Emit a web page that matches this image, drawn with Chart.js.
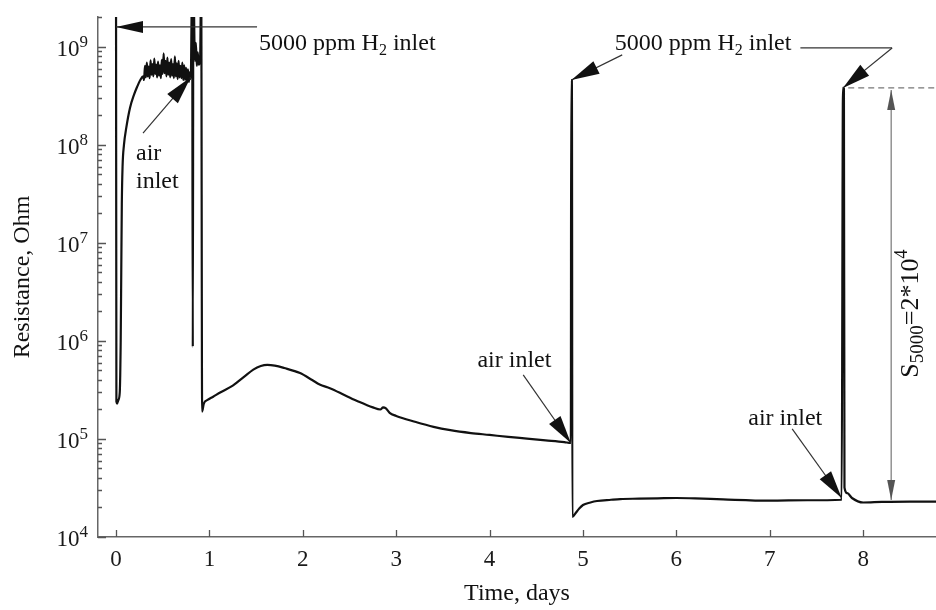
<!DOCTYPE html>
<html>
<head>
<meta charset="utf-8">
<script src="https://cdn.jsdelivr.net/npm/chart.js@4.4.1/dist/chart.umd.min.js"></script>
<style>
  html, body { margin: 0; padding: 0; background: #fff; }
</style>
</head>
<body>
<canvas id="resChart" width="936" height="610"></canvas>
<script>
// time, days
const days = [
  0, 0.004, 0.012, 0.025, 0.04, 0.05, 0.056, 0.062, 0.07, 0.085, 0.11, 0.15, 0.19, 0.225, 0.26, 0.29,
  0.30, 0.31, 0.32, 0.33, 0.34, 0.35, 0.36, 0.37, 0.38, 0.39, 0.40, 0.41, 0.42, 0.43, 0.44,
  0.45, 0.46, 0.47, 0.48, 0.49, 0.50, 0.51, 0.52, 0.53, 0.54, 0.55, 0.56, 0.57, 0.58, 0.59,
  0.60, 0.61, 0.62, 0.63, 0.64, 0.65, 0.66, 0.67, 0.68, 0.69, 0.70, 0.71, 0.72, 0.73, 0.74,
  0.75, 0.76, 0.77, 0.78, 0.79, 0.80,
  0.815, 0.822, 0.828, 0.845, 0.855, 0.865, 0.875, 0.885, 0.90, 0.912, 0.922, 0.94, 0.98,
  1.04, 1.12, 1.25, 1.37, 1.47, 1.55, 1.62, 1.70, 1.80, 1.97, 2.10, 2.18, 2.29, 2.45, 2.60,
  2.75, 2.83, 2.86, 2.89, 2.93, 3.00, 3.2, 3.4, 3.58, 3.8, 4.0, 4.2, 4.4, 4.6, 4.8, 4.87,
  4.874, 4.882, 4.886, 4.92, 4.96, 5.0, 5.08, 5.15, 5.3, 5.4, 5.6, 5.8, 6.0, 6.2, 6.5, 7.0,
  7.4, 7.77, 7.784, 7.794, 7.8, 7.83, 7.88, 8.0, 8.2, 8.5, 8.78
];
// resistance, Ohm
const ohms = [
  5e9, 2.4e5, 2.3e5, 2.5e5, 3.0e5, 1.0e6, 5e6, 2.5e7, 6e7, 1.0e8, 1.5e8, 2.4e8, 3.2e8, 3.9e8, 4.6e8, 5.0e8,
  4.6e8, 6.4e8, 4.9e8, 6.9e8, 5.0e8, 6.3e8, 4.8e8, 7.3e8, 5.2e8, 6.7e8, 5.0e8, 7.6e8, 5.3e8, 6.6e8, 4.9e8,
  7.1e8, 5.1e8, 6.5e8, 4.8e8, 7.4e8, 5.3e8, 8.6e8, 5.4e8, 7.2e8, 5.0e8, 7.8e8, 5.2e8, 6.9e8, 4.9e8, 7.5e8,
  5.1e8, 6.7e8, 4.8e8, 8.0e8, 5.0e8, 6.8e8, 4.7e8, 7.2e8, 4.9e8, 6.4e8, 4.8e8, 6.9e8, 4.6e8, 6.5e8, 4.6e8,
  6.1e8, 4.5e8, 5.9e8, 4.4e8, 5.5e8, 4.7e8,
  5e9, 8.7e5, 5e9, 7.2e8, 1.1e9, 6.4e8, 8.8e8, 6.6e8, 7.3e8, 5e9, 1.9e5, 2.3e5, 2.5e5,
  2.7e5, 3.0e5, 3.5e5, 4.3e5, 5.1e5, 5.55e5, 5.7e5, 5.6e5, 5.3e5, 4.7e5, 4.0e5, 3.6e5, 3.3e5, 2.8e5, 2.4e5,
  2.1e5, 2.0e5, 2.1e5, 2.05e5, 1.85e5, 1.72e5, 1.5e5, 1.33e5, 1.23e5, 1.15e5, 1.1e5, 1.05e5, 1.01e5, 9.7e4, 9.3e4, 9.1e4,
  4.6e8, 4.55e8, 1.6e4, 1.75e4, 1.95e4, 2.12e4, 2.25e4, 2.33e4, 2.4e4, 2.44e4, 2.46e4, 2.48e4, 2.5e4, 2.48e4, 2.42e4, 2.35e4,
  2.37e4, 2.4e4, 3.82e8, 3.75e8, 3.2e4, 2.8e4, 2.5e4, 2.25e4, 2.28e4, 2.3e4, 2.3e4
];

const xTickValues = [0, 1, 2, 3, 4, 5, 6, 7, 8];
const yDecades = [4, 5, 6, 7, 8, 9];

const FONT = '"Liberation Serif", "Times New Roman", serif';

function drawRich(ctx, parts, x, y) {
  let cx = x;
  for (const p of parts) {
    ctx.font = p.size + 'px ' + FONT;
    ctx.fillText(p.text, cx, y + (p.dy || 0));
    cx += ctx.measureText(p.text).width;
  }
  return cx - x;
}

function richWidth(ctx, parts) {
  let w = 0;
  for (const p of parts) {
    ctx.font = p.size + 'px ' + FONT;
    w += ctx.measureText(p.text).width;
  }
  return w;
}

function head(ctx, x0, y0, x1, y1, len, half) {
  const a = Math.atan2(y1 - y0, x1 - x0);
  const bx = x1 - len * Math.cos(a), by = y1 - len * Math.sin(a);
  ctx.beginPath();
  ctx.moveTo(x1, y1);
  ctx.lineTo(bx + half * Math.sin(a), by - half * Math.cos(a));
  ctx.lineTo(bx - half * Math.sin(a), by + half * Math.cos(a));
  ctx.closePath();
  ctx.fill();
}

function arrow(ctx, x0, y0, x1, y1, len, half) {
  ctx.beginPath();
  ctx.moveTo(x0, y0);
  ctx.lineTo(x1, y1);
  ctx.stroke();
  head(ctx, x0, y0, x1, y1, len, half);
}

const h2Label = [
  { text: '5000 ppm H', size: 24 },
  { text: '2', size: 16, dy: 5 },
  { text: ' inlet', size: 24 }
];

const annotate = {
  id: 'annotate',
  afterDraw(chart) {
    const { ctx, chartArea: area, scales } = chart;
    const px = d => scales.x.getPixelForValue(d);
    const py = v => scales.y.getPixelForValue(v);
    ctx.save();

    // inward tick marks
    ctx.strokeStyle = '#555';
    ctx.lineWidth = 1.3;
    ctx.beginPath();
    yDecades.forEach(k => {
      for (let m = 1; m <= 9; m++) {
        const v = m * Math.pow(10, k);
        if (v > scales.y.max) break;
        const y = Math.round(py(v)) + 0.5;
        ctx.moveTo(area.left, y);
        ctx.lineTo(area.left + (m === 1 ? 8 : 4), y);
      }
    });
    xTickValues.forEach(t => {
      const x = Math.round(px(t)) + 0.5;
      ctx.moveTo(x, area.bottom);
      ctx.lineTo(x, area.bottom - 7);
    });
    ctx.stroke();

    // tick labels
    ctx.fillStyle = '#1a1a1a';
    ctx.textBaseline = 'alphabetic';
    ctx.textAlign = 'left';
    yDecades.forEach(k => {
      const y = py(Math.pow(10, k));
      const parts = [{ text: '10', size: 23 }, { text: String(k), size: 17, dy: -9 }];
      const w = richWidth(ctx, parts);
      drawRich(ctx, parts, 88 - w, y + 9);
    });
    ctx.font = '23px ' + FONT;
    ctx.textAlign = 'center';
    xTickValues.forEach(t => ctx.fillText(String(t), px(t), area.bottom + 29));
    ctx.textAlign = 'left';

    // annotations
    ctx.fillStyle = '#111';
    ctx.strokeStyle = '#333';
    ctx.lineWidth = 1.2;

    arrow(ctx, px(1.51), py(1.6e9), px(0), py(1.6e9), 27, 6);
    drawRich(ctx, h2Label, px(1.53), py(9.3e8));

    ctx.font = '24px ' + FONT;
    ctx.fillText('air', px(0.214), py(7.0e7));
    ctx.fillText('inlet', px(0.214), py(3.6e7));
    arrow(ctx, px(0.289), py(1.32e8), px(0.80), py(4.9e8), 28, 7);

    const w2 = drawRich(ctx, h2Label, px(5.34), py(9.3e8));
    arrow(ctx, px(5.42), py(8.3e8), px(4.876), py(4.6e8), 28, 7);
    ctx.beginPath();
    ctx.moveTo(px(5.34) + w2 + 9, py(9.77e8));
    ctx.lineTo(px(8.31), py(9.77e8));
    ctx.stroke();
    arrow(ctx, px(8.31), py(9.77e8), px(7.784), py(3.82e8), 28, 7);

    ctx.font = '24px ' + FONT;
    ctx.fillText('air inlet', px(3.87), py(5.4e5));
    arrow(ctx, px(4.36), py(4.5e5), px(4.87), py(9.1e4), 28, 7);
    ctx.fillText('air inlet', px(6.77), py(1.39e5));
    arrow(ctx, px(7.24), py(1.27e5), px(7.77), py(2.5e4), 28, 7);

    // S5000 marker
    ctx.strokeStyle = '#777';
    ctx.fillStyle = '#555';
    ctx.setLineDash([6, 4]);
    ctx.beginPath();
    ctx.moveTo(px(7.84), py(3.82e8));
    ctx.lineTo(area.right, py(3.82e8));
    ctx.stroke();
    ctx.setLineDash([]);
    const sx = px(8.30), sTop = py(3.82e8) + 2, sBot = py(2.39e4);
    ctx.beginPath();
    ctx.moveTo(sx, sTop);
    ctx.lineTo(sx, sBot);
    ctx.stroke();
    head(ctx, sx, sBot, sx, sTop, 20, 4);
    head(ctx, sx, sTop, sx, sBot, 20, 4);

    ctx.fillStyle = '#111';
    ctx.translate(px(8.59), py(1.9e6));
    ctx.rotate(-Math.PI / 2);
    const sParts = [
      { text: 'S', size: 26 },
      { text: '5000', size: 19, dy: 5 },
      { text: '=2*10', size: 26 },
      { text: '4', size: 18, dy: -11 }
    ];
    drawRich(ctx, sParts, -richWidth(ctx, sParts) / 2, 0);

    ctx.restore();
  }
};

new Chart(document.getElementById('resChart').getContext('2d'), {
  type: 'line',
  data: {
    datasets: [{
      data: days.map((d, i) => ({ x: d, y: ohms[i] })),
      borderColor: '#111',
      borderWidth: 2.2,
      pointRadius: 0,
      cubicInterpolationMode: 'monotone',
      fill: false
    }]
  },
  options: {
    responsive: false,
    animation: false,
    layout: { padding: { top: 17, left: 0, right: 0, bottom: 0 } },
    plugins: { legend: { display: false }, tooltip: { enabled: false } },
    scales: {
      x: {
        type: 'linear',
        min: -0.193,
        max: 8.78,
        grid: { display: false },
        border: { color: '#666', width: 1.5 },
        ticks: { display: false },
        title: {
          display: true,
          text: 'Time, days',
          color: '#111',
          font: { family: FONT, size: 24 },
          padding: { top: 0, bottom: 2 }
        },
        afterFit(scale) { scale.height = 73; }
      },
      y: {
        type: 'logarithmic',
        min: 1e4,
        max: 2.02e9,
        grid: { display: false },
        border: { color: '#666', width: 1.5 },
        ticks: { display: false },
        title: {
          display: true,
          text: 'Resistance, Ohm',
          color: '#111',
          font: { family: FONT, size: 24 },
          padding: { top: 8, bottom: 0 }
        },
        afterFit(scale) { scale.width = 98; }
      }
    }
  },
  plugins: [annotate]
});
</script>
</body>
</html>
